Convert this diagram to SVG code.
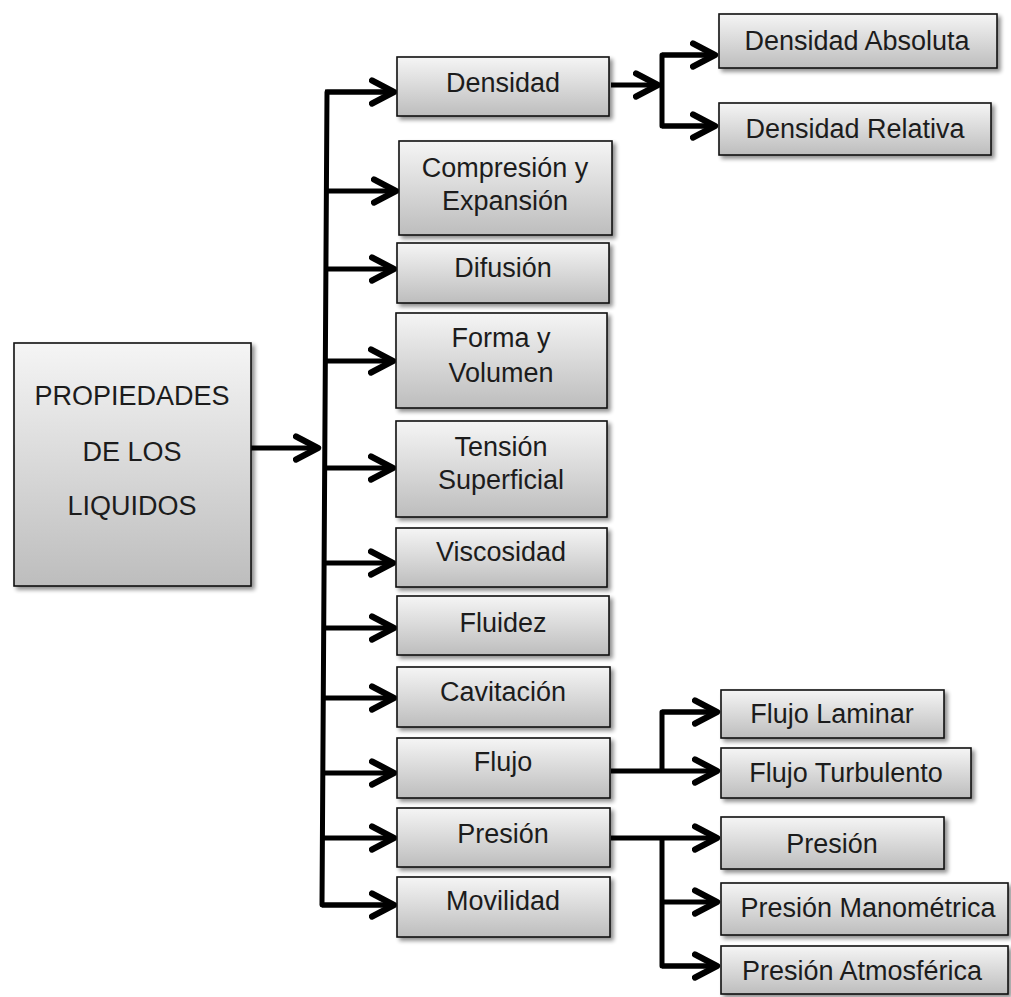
<svg xmlns="http://www.w3.org/2000/svg" width="1011" height="997" viewBox="0 0 1011 997">
  <defs>
    <linearGradient id="boxFill" x1="0" y1="0" x2="0" y2="1">
      <stop offset="0" stop-color="#f5f5f5"/>
      <stop offset="1" stop-color="#bdbdbd"/>
    </linearGradient>
    <filter id="shadow" x="-10%" y="-10%" width="125%" height="130%">
      <feGaussianBlur in="SourceAlpha" stdDeviation="2"/>
      <feOffset dx="3" dy="3" result="blur"/>
      <feComponentTransfer><feFuncA type="linear" slope="0.45"/></feComponentTransfer>
      <feMerge><feMergeNode/><feMergeNode in="SourceGraphic"/></feMerge>
    </filter>
    <marker id="chevron" markerUnits="userSpaceOnUse" markerWidth="30" markerHeight="30" viewBox="-22 -13 26 26" refX="0" refY="0" orient="auto">
      <path d="M-19,-10 L0,0 L-19,10" fill="none" stroke="#000" stroke-width="5.5" stroke-linecap="round" stroke-linejoin="round"/>
    </marker>
  </defs>
  <style>
    .box { fill: url(#boxFill); stroke: #111; stroke-width: 1.6; filter: url(#shadow); }
    .lbl { font-family: "Liberation Sans", Arial, sans-serif; font-size: 27px; fill: #1c1c1c; text-anchor: middle; }
    .wire { fill: none; stroke: #000; stroke-width: 5; stroke-linejoin: round; }
    .arr { fill: none; stroke: #000; stroke-width: 5; marker-end: url(#chevron); }
  </style>

  <rect width="1011" height="997" fill="#fff"/>

  <!-- connectors -->
  <g id="connectors">
    <!-- root to trunk -->
    <line class="arr" x1="251" y1="448" x2="318" y2="448"/>
    <!-- trunk -->
    <polyline class="wire" points="393,92 327,92 322,905 393,905"/>
    <line class="arr" x1="325" y1="92" x2="394" y2="92"/>
    <line class="arr" x1="326" y1="191" x2="396" y2="191"/>
    <line class="arr" x1="326" y1="269" x2="394" y2="269"/>
    <line class="arr" x1="325" y1="361" x2="393" y2="361"/>
    <line class="arr" x1="325" y1="468" x2="393" y2="468"/>
    <line class="arr" x1="324" y1="563" x2="393" y2="563"/>
    <line class="arr" x1="324" y1="628" x2="394" y2="628"/>
    <line class="arr" x1="323" y1="698" x2="394" y2="698"/>
    <line class="arr" x1="323" y1="773" x2="394" y2="773"/>
    <line class="arr" x1="323" y1="838" x2="394" y2="838"/>
    <line class="arr" x1="322" y1="905" x2="394" y2="905"/>

    <!-- Densidad branch -->
    <line class="arr" x1="611" y1="85" x2="658" y2="85"/>
    <polyline class="wire" points="712,55 662,55 662,126 712,126"/>
    <line class="arr" x1="662" y1="55" x2="715" y2="55"/>
    <line class="arr" x1="662" y1="126" x2="715" y2="126"/>

    <!-- Flujo branch -->
    <polyline class="wire" points="712,712 662,712 662,771"/>
    <line class="arr" x1="611" y1="771" x2="717" y2="771"/>
    <line class="arr" x1="662" y1="712" x2="717" y2="712"/>

    <!-- Presión branch -->
    <polyline class="wire" points="662,838 662,966 712,966"/>
    <line class="arr" x1="611" y1="838" x2="717" y2="838"/>
    <line class="arr" x1="662" y1="902" x2="717" y2="902"/>
    <line class="arr" x1="662" y1="966" x2="717" y2="966"/>
  </g>

  <!-- root -->
  <g id="node-propiedades">
    <rect class="box" x="14" y="343" width="237" height="243"/>
    <text class="lbl" x="132" y="405">PROPIEDADES</text>
    <text class="lbl" x="132" y="461">DE LOS</text>
    <text class="lbl" x="132" y="515">LIQUIDOS</text>
  </g>

  <!-- second level -->
  <g id="node-densidad">
    <rect class="box" x="397" y="57" width="212" height="59"/>
    <text class="lbl" x="503" y="92">Densidad</text>
  </g>
  <g id="node-compresion">
    <rect class="box" x="399" y="141" width="213" height="94"/>
    <text class="lbl" x="505" y="177">Compresión y</text>
    <text class="lbl" x="505" y="210">Expansión</text>
  </g>
  <g id="node-difusion">
    <rect class="box" x="397" y="243" width="212" height="60"/>
    <text class="lbl" x="503" y="277">Difusión</text>
  </g>
  <g id="node-forma">
    <rect class="box" x="396" y="313" width="211" height="95"/>
    <text class="lbl" x="501" y="347">Forma y</text>
    <text class="lbl" x="501" y="382">Volumen</text>
  </g>
  <g id="node-tension">
    <rect class="box" x="396" y="421" width="211" height="96"/>
    <text class="lbl" x="501" y="456">Tensión</text>
    <text class="lbl" x="501" y="489">Superficial</text>
  </g>
  <g id="node-viscosidad">
    <rect class="box" x="396" y="528" width="211" height="59"/>
    <text class="lbl" x="501" y="561">Viscosidad</text>
  </g>
  <g id="node-fluidez">
    <rect class="box" x="397" y="596" width="212" height="59"/>
    <text class="lbl" x="503" y="632">Fluidez</text>
  </g>
  <g id="node-cavitacion">
    <rect class="box" x="397" y="667" width="213" height="60"/>
    <text class="lbl" x="503" y="701">Cavitación</text>
  </g>
  <g id="node-flujo">
    <rect class="box" x="397" y="738" width="213" height="60"/>
    <text class="lbl" x="503" y="771">Flujo</text>
  </g>
  <g id="node-presion">
    <rect class="box" x="397" y="808" width="213" height="59"/>
    <text class="lbl" x="503" y="843">Presión</text>
  </g>
  <g id="node-movilidad">
    <rect class="box" x="397" y="877" width="213" height="60"/>
    <text class="lbl" x="503" y="910">Movilidad</text>
  </g>

  <!-- third level -->
  <g id="node-densidad-absoluta">
    <rect class="box" x="719" y="14" width="278" height="54"/>
    <text class="lbl" x="857" y="50">Densidad Absoluta</text>
  </g>
  <g id="node-densidad-relativa">
    <rect class="box" x="719" y="103" width="272" height="52"/>
    <text class="lbl" x="855" y="138">Densidad Relativa</text>
  </g>
  <g id="node-flujo-laminar">
    <rect class="box" x="721" y="690" width="223" height="48"/>
    <text class="lbl" x="832" y="723">Flujo Laminar</text>
  </g>
  <g id="node-flujo-turbulento">
    <rect class="box" x="721" y="748" width="250" height="50"/>
    <text class="lbl" x="846" y="782">Flujo Turbulento</text>
  </g>
  <g id="node-presion-sub">
    <rect class="box" x="721" y="817" width="223" height="52"/>
    <text class="lbl" x="832" y="853">Presión</text>
  </g>
  <g id="node-presion-manometrica">
    <rect class="box" x="721" y="883" width="287" height="52"/>
    <text class="lbl" x="868" y="917">Presión Manométrica</text>
  </g>
  <g id="node-presion-atmosferica">
    <rect class="box" x="721" y="946" width="287" height="48"/>
    <text class="lbl" x="862" y="980">Presión Atmosférica</text>
  </g>
</svg>
